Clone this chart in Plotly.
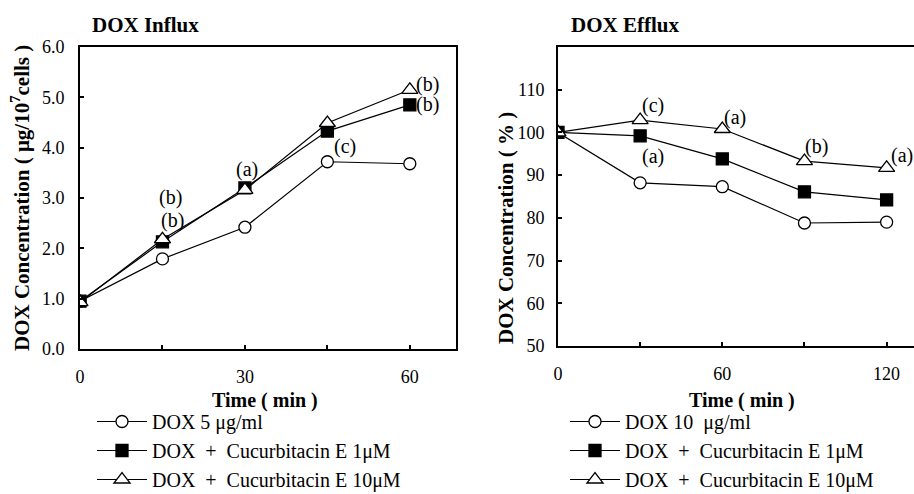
import plotly.graph_objects as go

# ---------------- data ----------------
influx_time = [0, 15, 30, 45, 60]
influx_dox = [0.95, 1.79, 2.42, 3.72, 3.68]
influx_cue1 = [0.95, 2.13, 3.20, 4.33, 4.85]
influx_cue10 = [0.93, 2.18, 3.16, 4.49, 5.15]

efflux_time = [0, 30, 60, 90, 120]
efflux_dox = [100, 88.2, 87.3, 78.8, 79.0]
efflux_cue1 = [100, 99.2, 93.8, 86.1, 84.2]
efflux_cue10 = [100, 102.9, 100.8, 93.3, 91.7]

influx_names = ["DOX 5 \u03bcg/ml", "DOX  +  Cucurbitacin E 1\u03bcM", "DOX  +  Cucurbitacin E 10\u03bcM"]
efflux_names = ["DOX 10  \u03bcg/ml", "DOX  +  Cucurbitacin E 1\u03bcM", "DOX  +  Cucurbitacin E 10\u03bcM"]

influx_ticks = [0, 30, 60]
influx_minor_ticks = [15, 45]
influx_yticks = [0, 1, 2, 3, 4, 5, 6]
influx_yticktext = ["0.0", "1.0", "2.0", "3.0", "4.0", "5.0", "6.0"]
efflux_ticks = [0, 60, 120]
efflux_minor_ticks = [30, 90]
efflux_yticks = [50, 60, 70, 80, 90, 100, 110]

# significance labels: (x, y, text)
influx_labels = [(16.4, 3.0, "(b)"), (16.9, 2.56, "(b)"), (30.4, 3.56, "(a)"),
                 (48.2, 4.03, "(c)"), (63.3, 5.25, "(b)"), (63.3, 4.85, "(b)")]
efflux_labels = [(34.6, 106.2, "(c)"), (64.6, 103.6, "(a)"), (34.6, 94.3, "(a)"),
                 (94.5, 96.6, "(b)"), (125.5, 94.7, "(a)")]

FONT = "Liberation Serif, Times New Roman, serif"
W, H = 914, 494

fig = go.Figure()

styles = [
    dict(symbol="circle", color="white", size=12),
    dict(symbol="square", color="black", size=12),
    dict(symbol="triangle-up", color="white", size=14),
]

for ys, name, st in zip([influx_dox, influx_cue1, influx_cue10], influx_names, styles):
    fig.add_trace(go.Scatter(
        x=influx_time, y=ys, name=name, mode="lines+markers",
        line=dict(color="black", width=1.2),
        marker=dict(symbol=st["symbol"], size=st["size"], color=st["color"],
                    line=dict(color="black", width=1.3)),
        xaxis="x", yaxis="y", legend="legend"))

for ys, name, st in zip([efflux_dox, efflux_cue1, efflux_cue10], efflux_names, styles):
    fig.add_trace(go.Scatter(
        x=efflux_time, y=ys, name=name, mode="lines+markers",
        line=dict(color="black", width=1.2),
        marker=dict(symbol=st["symbol"], size=st["size"], color=st["color"],
                    line=dict(color="black", width=1.3)),
        xaxis="x2", yaxis="y2", legend="legend2"))

def px_x(p):
    return p / W

def px_y(p):
    return 1 - p / H

axis_common = dict(showgrid=False, zeroline=False, showline=True, linecolor="black",
                   linewidth=2, ticks="inside", ticklen=4, tickwidth=1.5, tickcolor="black",
                   tickfont=dict(family=FONT, size=18, color="black"), automargin=False)

def minor(vals):
    return dict(tickmode="array", tickvals=vals, ticks="inside", ticklen=4,
                tickwidth=1.5, tickcolor="black", showgrid=False)

legend_font = dict(family=FONT, size=20, color="black")

fig.update_layout(
    width=W, height=H,
    margin=dict(l=0, r=0, t=0, b=0, autoexpand=False),
    paper_bgcolor="white", plot_bgcolor="white",
    font=dict(family=FONT, color="black"),
    xaxis=dict(domain=[px_x(80), px_x(456)], range=[0, 68.4], tickvals=influx_ticks,
               minor=minor(influx_minor_ticks), mirror=True, ticklabelstandoff=10,
               anchor="y", **axis_common),
    yaxis=dict(domain=[px_y(349), px_y(47)], range=[0, 6], tickvals=influx_yticks,
               ticktext=influx_yticktext, mirror=True, ticklabelstandoff=10, anchor="x",
               **axis_common),
    xaxis2=dict(domain=[px_x(558), 1.0], range=[0, 130], tickvals=efflux_ticks,
                minor=minor(efflux_minor_ticks), mirror=True, ticklabelstandoff=10,
                anchor="y2", **axis_common),
    yaxis2=dict(domain=[px_y(346), px_y(47)], range=[50, 120], tickvals=efflux_yticks,
                mirror=False, ticklabelstandoff=8, anchor="x2", **axis_common),
    legend=dict(x=px_x(92), y=px_y(402), xanchor="left", yanchor="top",
                font=legend_font, bgcolor="rgba(0,0,0,0)", itemwidth=50, tracegroupgap=0),
    legend2=dict(x=px_x(565), y=px_y(402), xanchor="left", yanchor="top",
                 font=legend_font, bgcolor="rgba(0,0,0,0)", itemwidth=50, tracegroupgap=0),
)

ann = []
for x, y, t in influx_labels:
    ann.append(dict(x=x, y=y, xref="x", yref="y", text=t, showarrow=False,
                    xanchor="center", yanchor="middle",
                    font=dict(family=FONT, size=20, color="black")))
for x, y, t in efflux_labels:
    ann.append(dict(x=x, y=y, xref="x2", yref="y2", text=t, showarrow=False,
                    xanchor="center", yanchor="middle",
                    font=dict(family=FONT, size=20, color="black")))

bold = dict(family=FONT, size=21, color="black")
paper_text = [
    (145, 25, "<b>DOX Influx</b>", 21),
    (625, 25, "<b>DOX Efflux</b>", 21),
    (265, 400, "<b>Time ( min )</b>", 20),
    (742, 400, "<b>Time ( min )</b>", 20),
]
for px, py, t, fs in paper_text:
    ann.append(dict(x=px_x(px), y=px_y(py), xref="paper", yref="paper", text=t,
                    showarrow=False, xanchor="center", yanchor="middle",
                    font=dict(family=FONT, size=fs, color="black")))
ytitles = [
    (20, 198, "<b>DOX Concentration ( \u03bcg/10<sup>7</sup>cells )</b>"),
    (506, 228, "<b>DOX Concentration ( % )</b>"),
]
for px, py, t in ytitles:
    ann.append(dict(x=px_x(px), y=px_y(py), xref="paper", yref="paper", text=t,
                    textangle=-90, showarrow=False, xanchor="center", yanchor="middle",
                    font=bold))
fig.update_layout(annotations=ann)

fig.write_html("out.html")
